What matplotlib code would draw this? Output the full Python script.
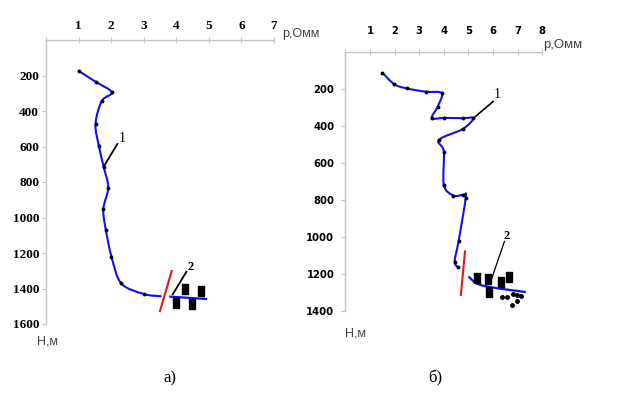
import matplotlib

matplotlib.use("Agg")
import matplotlib.pyplot as plt
import numpy as np
from matplotlib.font_manager import FontProperties, findfont
from matplotlib.patches import PathPatch
from matplotlib.path import Path

# panel a) - resistivity (Ohm*m) vs depth (m)
a_rho = [1.01, 1.52, 2.02, 1.71, 1.52, 1.62, 1.77, 1.91, 1.76, 1.84, 2.01, 2.31, 3.0, 3.55]
a_dep = [175, 235, 295, 344, 473, 595, 714, 832, 952, 1072, 1220, 1371, 1431, 1444]
a_tail_rho = [3.82, 4.91]
a_tail_dep = [1446, 1459]
a_cut_rho = [3.5, 3.86]
a_cut_dep = [1527, 1301]
a_sq_rho = [4.28, 4.77, 3.98, 4.49]
a_sq_dep = [1405, 1414, 1484, 1489]

# panel б)
b_rho = [1.50, 1.99, 2.49, 3.26, 3.91, 3.75, 3.51, 4.0, 4.77, 5.2, 4.77, 3.8, 4.0, 4.0,
         4.39, 4.79, 4.89, 4.6, 4.44, 4.58]
b_dep = [114, 177, 199, 217, 225, 297, 360, 358, 360, 360, 418, 477, 540, 720,
         777, 774, 788, 1022, 1133, 1165]
b_tail_rho = [5.0, 5.55, 7.33]
b_tail_dep = [1214, 1262, 1298]
b_cut_rho = [4.69, 4.86]
b_cut_dep = [1313, 1079]
b_sq_rho = [5.34, 5.78, 5.85, 6.32, 6.66]
b_sq_dep = [1223, 1228, 1298, 1246, 1219]
b_dot_rho = [6.35, 6.57, 6.8, 6.99, 7.14, 6.76, 6.96]
b_dot_dep = [1325, 1322, 1309, 1313, 1318, 1367, 1344]

BLUE, RED, GRID = "#1010f0", "#e01820", "#c4c4c4"
RECT = [(-0.33, -0.5), (0.33, -0.5), (0.33, 0.5), (-0.33, 0.5), (-0.33, -0.5)]


def smooth(ax, xs, ys, **kw):
    # Catmull-Rom style smoothing like a spreadsheet "smoothed line"
    p = np.column_stack([xs, ys]).astype(float)
    ext = np.vstack([p[0], p, p[-1]])
    verts, codes = [p[0]], [Path.MOVETO]
    for i in range(1, len(ext) - 2):
        c1 = ext[i] + (ext[i + 1] - ext[i - 1]) / 6
        c2 = ext[i + 1] - (ext[i + 2] - ext[i]) / 6
        verts += [c1, c2, ext[i + 1]]
        codes += [Path.CURVE4] * 3
    ax.add_patch(PathPatch(Path(verts, codes), fill=False, **kw))


def style(ax, xmax, ymax, font, xpad, ypad):
    ax.set_xlim(0, xmax)
    ax.set_ylim(ymax, 0)
    ax.xaxis.tick_top()
    for s in ["bottom", "right"]:
        ax.spines[s].set_visible(False)
    for s in ["top", "left"]:
        ax.spines[s].set_color(GRID)
        ax.spines[s].set_linewidth(1)
    ax.set_xticks(range(0, xmax + 1))
    ax.set_xticklabels([""] + [str(i) for i in range(1, xmax + 1)])
    ax.set_yticks(range(200, ymax + 1, 200))
    ax.tick_params(axis="x", direction="inout", length=5, color=GRID, pad=xpad)
    ax.tick_params(axis="y", direction="out", length=3, color=GRID, pad=ypad)
    for t in ax.get_xticklabels() + ax.get_yticklabels():
        t.set_fontproperties(font)
    ax.patch.set_visible(False)


fig = plt.figure(figsize=(6.24, 3.94), dpi=100)
serif_b = FontProperties(family="Liberation Serif", weight="bold", size=9.5)
narrow_b = FontProperties(family="DejaVu Sans", stretch="condensed", weight="bold", size=8)
if "Condensed" not in findfont(narrow_b):
    narrow_b = FontProperties(family="Liberation Sans", weight="bold", size=8)

# ---- panel a)
ax1 = fig.add_axes([46 / 624, 1 - 324 / 394, 228 / 624, 284 / 394])
style(ax1, 7, 1600, serif_b, 3, 2)
smooth(ax1, a_rho, a_dep, color=BLUE, lw=1.5)
ax1.plot(a_rho[:-1], a_dep[:-1], "o", ms=1.8, color="black")
ax1.plot(a_tail_rho, a_tail_dep, color=BLUE, lw=1.6)
ax1.plot(a_cut_rho, a_cut_dep, color=RED, lw=1.5)
ax1.plot(a_sq_rho, a_sq_dep, ls="none", marker=RECT, ms=7, color="black")
ax1.plot([a_rho[6], 2.19], [a_dep[6], 586], color="black", lw=1.3)
ax1.text(2.34, 554, "1", family="Liberation Serif", size=10, ha="center", va="center")
ax1.plot([3.89, 4.31], [1433, 1306], color="black", lw=1.3)
ax1.text(4.44, 1281, "2", family="Liberation Serif", size=9, weight="bold", ha="center", va="center")

# ---- panel б)
ax2 = fig.add_axes([345.4 / 624, 1 - 311 / 394, 196.9 / 624, 259.5 / 394])
style(ax2, 8, 1400, narrow_b, 9, 5)
smooth(ax2, b_rho, b_dep, color=BLUE, lw=1.5)
ax2.plot(b_rho, b_dep, "o", ms=1.8, color="black")
smooth(ax2, b_tail_rho, b_tail_dep, color=BLUE, lw=1.6)
ax2.plot(b_cut_rho, b_cut_dep, color=RED, lw=1.5)
ax2.plot(b_sq_rho, b_sq_dep, ls="none", marker=RECT, ms=7, color="black")
ax2.plot(b_dot_rho, b_dot_dep, "o", ms=2.5, color="black")
ax2.plot([b_rho[9], 6.0], [b_dep[9], 270], color="black", lw=1.2)
ax2.text(6.18, 234, "1", family="Liberation Serif", size=10, ha="center", va="center")
ax2.plot([5.88, 6.46], [1250, 1025], color="black", lw=0.9)
ax2.text(6.56, 995, "2", family="Liberation Serif", size=9, weight="bold", ha="center", va="center")

# axis captions
txt = dict(family="Liberation Sans", color="#404040")
fig.text(282 / 624, 1 - 40 / 394, "p,Омм", size=9, va="bottom", **txt)
fig.text(543 / 624, 1 - 51 / 394, "p,Омм", size=9.5, va="bottom", **txt)
fig.text(37 / 624, 1 - 342 / 394, "Н,м", size=9, va="center", **txt)
fig.text(345 / 624, 1 - 333 / 394, "Н,м", size=9, va="center", **txt)
fig.text(170 / 624, 1 - 378 / 394, "а)", size=12, family="Liberation Serif", ha="center", va="center")
fig.text(435 / 624, 1 - 378 / 394, "б)", size=12, family="Liberation Serif", ha="center", va="center")

fig.savefig("out.png", dpi=100)
